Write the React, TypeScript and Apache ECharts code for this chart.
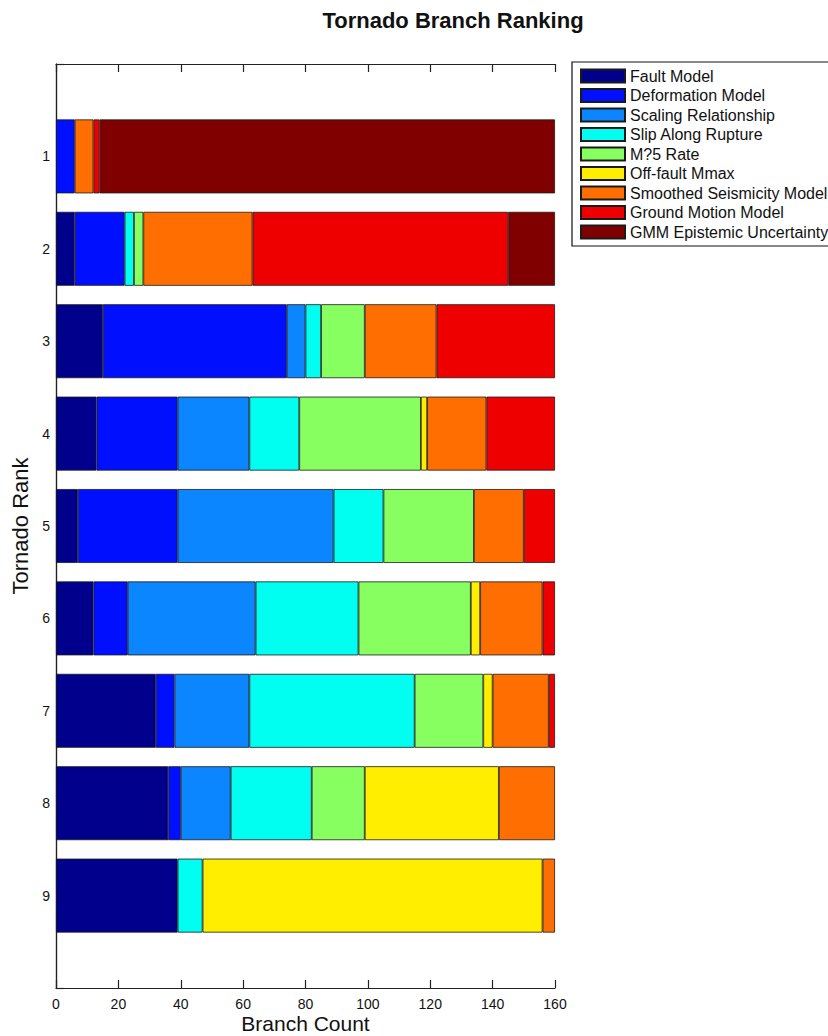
import React, { useEffect, useRef } from "react";
import * as echarts from "echarts";

const ranks = ["1", "2", "3", "4", "5", "6", "7", "8", "9"];
const seriesNames = [
  "Fault Model",
  "Deformation Model",
  "Scaling Relationship",
  "Slip Along Rupture",
  "M?5 Rate",
  "Off-fault Mmax",
  "Smoothed Seismicity Model",
  "Ground Motion Model",
  "GMM Epistemic Uncertainty",
];
const colors = [
  "#00008C",
  "#0010FF",
  "#0B86FF",
  "#00FFF0",
  "#88FF60",
  "#FFEE00",
  "#FF6E00",
  "#EE0000",
  "#800000",
];
// values per rank 1..9
const faultModel = [0, 6, 15, 13, 7, 12, 32, 36, 39];
const deformationModel = [6, 16, 59, 26, 32, 11, 6, 4, 0];
const scalingRelationship = [0, 0, 6, 23, 50, 41, 24, 16, 0];
const slipAlongRupture = [0, 3, 5, 16, 16, 33, 53, 26, 8];
const m5Rate = [0, 3, 14, 39, 29, 36, 22, 17, 0];
const offFaultMmax = [0, 0, 0, 2, 0, 3, 3, 43, 109];
const smoothedSeismicity = [6, 35, 23, 19, 16, 20, 18, 18, 4];
const groundMotionModel = [2, 82, 38, 22, 10, 4, 2, 0, 0];
const gmmEpistemic = [146, 15, 0, 0, 0, 0, 0, 0, 0];

const allValues = [
  faultModel,
  deformationModel,
  scalingRelationship,
  slipAlongRupture,
  m5Rate,
  offFaultMmax,
  smoothedSeismicity,
  groundMotionModel,
  gmmEpistemic,
];

const xTickMin = 0;
const xTickMax = 160;
const xTickInterval = 20;

const FONT = "'Liberation Sans', Arial, Helvetica, sans-serif";

export default function App() {
  const ref = useRef<HTMLDivElement>(null);
  useEffect(() => {
    if (!ref.current) return;
    const chart = echarts.init(ref.current, null, { renderer: "svg" });
    const yCats = ["", ...ranks, ""];
    const axisLineStyle = { color: "#222", width: 1.2 };
    const option = {
      animation: false,
      backgroundColor: "#fff",
      title: {
        text: "Tornado Branch Ranking",
        left: 448,
        top: 4,
        textAlign: "center",
        textStyle: { fontFamily: FONT, fontWeight: "bold", fontSize: 22, color: "#111" },
      },
      legend: {
        orient: "vertical",
        left: 572,
        top: 62,
        itemWidth: 44,
        itemHeight: 13,
        itemGap: 3.5,
        padding: [6, 6, 6, 8],
        borderColor: "#111",
        borderWidth: 1.2,
        backgroundColor: "#fff",
        icon: "rect",
        data: seriesNames,
        textStyle: { fontFamily: FONT, fontSize: 16, color: "#111" },
      },
      grid: { left: 56, top: 64, width: 499, height: 924, outerBoundsMode: "none", containLabel: false },
      xAxis: [
        {
          type: "value",
          min: xTickMin,
          max: xTickMax,
          interval: xTickInterval,
          position: "bottom",
          name: "Branch Count",
          nameLocation: "middle",
          nameGap: 25,
          nameMoveOverlap: false,
          nameTextStyle: { fontFamily: FONT, fontSize: 21, color: "#111", lineHeight: 21 },
          axisLine: { show: true, lineStyle: axisLineStyle },
          axisTick: { show: true, inside: true, length: 8, lineStyle: axisLineStyle },
          axisLabel: { fontFamily: FONT, fontSize: 14, color: "#111", margin: 9, lineHeight: 14 },
          splitLine: { show: false },
        },
        {
          type: "value",
          min: xTickMin,
          max: xTickMax,
          interval: xTickInterval,
          position: "top",
          axisLine: { show: true, lineStyle: axisLineStyle },
          axisTick: { show: true, inside: true, length: 8, lineStyle: axisLineStyle },
          axisLabel: { show: false },
          splitLine: { show: false },
        },
      ],
      yAxis: [
        {
          type: "category",
          data: yCats,
          inverse: true,
          boundaryGap: false,
          name: "Tornado Rank",
          nameLocation: "middle",
          nameGap: 20,
          nameRotate: 90,
          nameTextStyle: { fontFamily: FONT, fontSize: 22, color: "#111" },
          axisLine: { show: true, lineStyle: axisLineStyle },
          axisTick: { show: true, inside: true, length: 8, lineStyle: axisLineStyle },
          axisLabel: { fontFamily: FONT, fontSize: 14, color: "#111", margin: 6, interval: 0 },
          splitLine: { show: false },
        },
        {
          type: "category",
          data: yCats,
          inverse: true,
          boundaryGap: false,
          position: "right",
          axisLine: { show: true, lineStyle: axisLineStyle },
          axisTick: { show: false },
          axisLabel: { show: false },
          splitLine: { show: false },
        },
      ],
      series: seriesNames.map((name, i) => ({
        name,
        type: "bar",
        stack: "total",
        xAxisIndex: 0,
        yAxisIndex: 0,
        barWidth: "80%",
        itemStyle: { color: colors[i], borderColor: "#1a1a1a", borderWidth: 0.8 },
        emphasis: { disabled: true },
        data: [null, ...allValues[i].map((v) => (v === 0 ? null : v)), null],
      })),
    };
    chart.setOption(option as any);
    return () => chart.dispose();
  }, []);
  return (
    <div
      ref={ref}
      style={{ position: "absolute", left: 0, top: 0, width: 828, height: 1036 }}
    />
  );
}
